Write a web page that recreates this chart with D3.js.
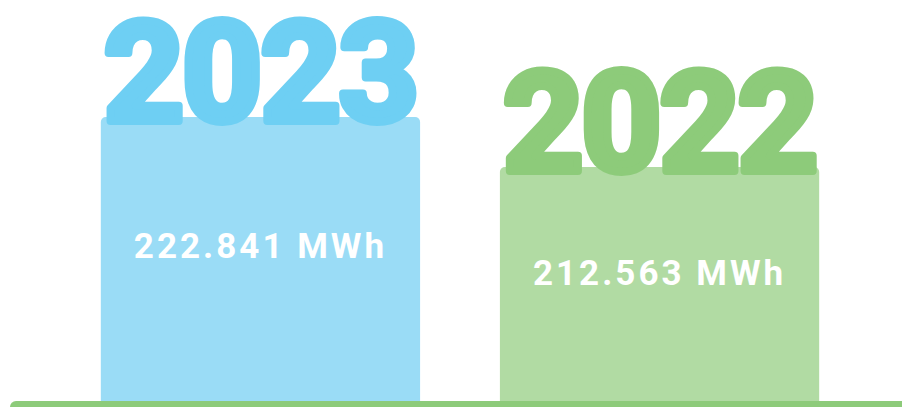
<!DOCTYPE html>
<html><head><meta charset="utf-8">
<script src="https://cdn.jsdelivr.net/npm/d3@7"></script>
<style>html,body{margin:0;padding:0;background:#fff;}svg{display:block;}</style>
</head><body>
<svg id="chart" width="902" height="407"></svg>
<script>
const years = ["2023", "2022"];
const values = [222.841, 212.563];
const valueLabels = ["222.841 MWh", "212.563 MWh"];
const barColors = ["#9adcf6", "#b1dba3"];
const yearColors = ["#6ecff3", "#8dcb7a"];
const baseColor = "#8dcb7a";

const W = 902, H = 407, baseY = 401;
const svg = d3.select("#chart");

const x = d3.scaleBand().domain(years).range([21, 899]).paddingInner(0.2).paddingOuter(0.2);
const y = d3.scaleLinear().domain([164.46, 222.841]).range([baseY, 117]);

const data = years.map((yr, i) => ({year: yr, value: values[i], label: valueLabels[i], bar: barColors[i], col: yearColors[i]}));

const g = svg.append("g");
g.selectAll("rect.bar").data(data).join("rect")
  .attr("class", "bar")
  .attr("x", d => x(d.year))
  .attr("width", x.bandwidth())
  .attr("y", d => y(d.value))
  .attr("height", d => baseY - y(d.value) + 6)
  .attr("rx", 5)
  .attr("fill", d => d.bar);

g.selectAll("text.val").data(data).join("text")
  .attr("class", "val")
  .attr("x", d => x(d.year) + x.bandwidth() / 2)
  .attr("y", d => { const t = y(d.value); return t + 0.45 * (baseY - t) + 13; })
  .attr("text-anchor", "middle")
  .attr("fill", "#fff")
  .style("font-family", "Roboto, sans-serif")
  .style("font-weight", 700)
  .style("font-size", "35px")
  .style("letter-spacing", "3px")
  .text(d => d.label);

g.selectAll("text.year").data(data).join("text")
  .attr("class", "year")
  .attr("x", d => x(d.year) + x.bandwidth() / 2)
  .attr("y", d => y(d.value) + 4)
  .attr("text-anchor", "middle")
  .attr("fill", d => d.col)
  .attr("stroke", d => d.col)
  .attr("stroke-width", 8)
  .attr("stroke-linejoin", "round")
  .style("font-family", "Roboto, sans-serif")
  .style("font-weight", 700)
  .style("font-size", "140px")
  .style("letter-spacing", "-2px")
  .text(d => d.year);

svg.append("rect")
  .attr("x", 10).attr("y", baseY)
  .attr("width", W).attr("height", 20)
  .attr("rx", 6)
  .attr("fill", baseColor);
</script>
</body></html>
